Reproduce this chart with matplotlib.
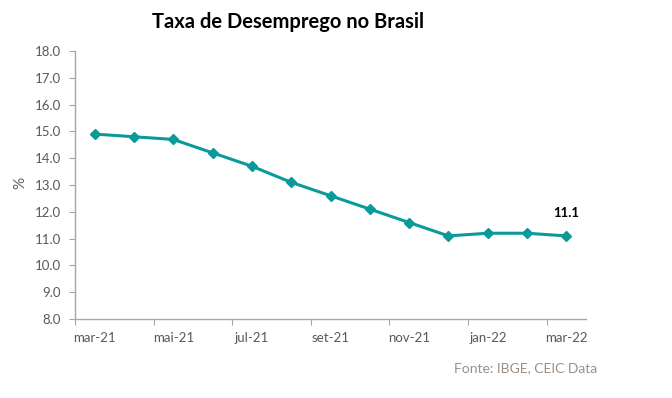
import matplotlib
matplotlib.use("Agg")
import matplotlib.pyplot as plt
from matplotlib.ticker import FixedLocator, FormatStrFormatter, NullFormatter

# dados: taxa de desemprego mensal (%)
meses = ["mar-21", "abr-21", "mai-21", "jun-21", "jul-21", "ago-21", "set-21",
         "out-21", "nov-21", "dez-21", "jan-22", "fev-22", "mar-22"]
taxa = [14.9, 14.8, 14.7, 14.2, 13.7, 13.1, 12.6, 12.1, 11.6, 11.1, 11.2, 11.2, 11.1]
y_ticks = [8.0, 9.0, 10.0, 11.0, 12.0, 13.0, 14.0, 15.0, 16.0, 17.0, 18.0]

plt.rcParams['font.family'] = ['Lato', 'DejaVu Sans']

cinza = '#595959'
cor_linha = '#0a9a9a'

fig = plt.figure(figsize=(6.72, 3.98), dpi=100)
ax = fig.add_axes([75 / 672, 79 / 398, 511 / 672, 268 / 398])

x = list(range(len(meses)))
ax.plot(x, taxa, color=cor_linha, linewidth=2.2, marker='D', markersize=5,
        markerfacecolor=cor_linha, markeredgecolor=cor_linha)

# rotulo do ultimo valor
ax.annotate(f"{taxa[-1]:.1f}", (x[-1], taxa[-1]), xytext=(0, 12),
            textcoords='offset points', ha='center', va='bottom',
            fontsize=9.5, fontweight='bold', color='black')

ax.set_xlim(-0.5, len(meses) - 0.5)
ax.set_ylim(y_ticks[0], y_ticks[-1])

# ticks entre categorias, rotulos no centro (estilo excel)
ax.xaxis.set_major_locator(FixedLocator([i - 0.5 for i in x[::2]]))
ax.xaxis.set_major_formatter(NullFormatter())
ax.xaxis.set_minor_locator(FixedLocator(x[::2]))
ax.set_xticklabels([meses[i] for i in x[::2]], minor=True)
ax.tick_params(axis='x', which='minor', length=0, pad=9, labelsize=9.5, labelcolor=cinza)
ax.tick_params(axis='x', which='major', length=4, direction='out', color='#a6a6a6')

ax.set_yticks(y_ticks)
ax.yaxis.set_major_formatter(FormatStrFormatter('%.1f'))
ax.tick_params(axis='y', length=4, direction='out', color='#a6a6a6',
               labelsize=9.5, labelcolor=cinza, pad=6)

for lado in ['top', 'right']:
    ax.spines[lado].set_visible(False)
for lado in ['left', 'bottom']:
    ax.spines[lado].set_color('#a6a6a6')
    ax.spines[lado].set_linewidth(1)

fig.text(20 / 672, 1 - 183 / 398, "%", rotation=90, ha='center', va='center',
         fontsize=11, color=cinza)
fig.text(288 / 672, 1 - 22 / 398, "Taxa de Desemprego no Brasil", ha='center',
         va='center', fontsize=14.5, fontweight='bold', color='black')
fig.text(597 / 672, 1 - 368 / 398, "Fonte: IBGE, CEIC Data", ha='right',
         va='center', fontsize=10, color='#9d8f84')

fig.savefig("out.png", dpi=100)
